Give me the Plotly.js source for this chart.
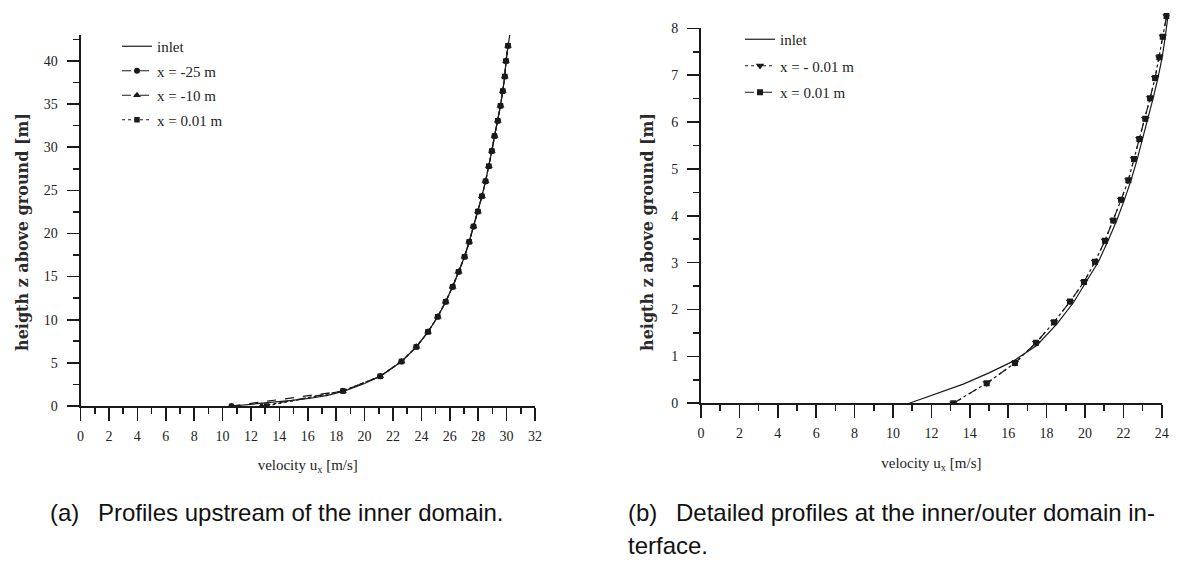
<!DOCTYPE html>
<html>
<head>
<meta charset="utf-8">
<script src="https://cdn.plot.ly/plotly-3.0.1.min.js"></script>
<style>
html,body{margin:0;padding:0;background:#fff;}
#chart{width:1179px;height:563px;}
</style>
</head>
<body>
<div id="chart"></div>
<script>
// ---------- data: (a) profiles upstream of the inner domain ----------
const leftZ = [0, 1.74, 3.44, 5.16, 6.86, 8.6, 10.35, 12.09, 13.82, 15.56, 17.3, 19.05, 20.8,
  22.55, 24.3, 26.05, 27.8, 29.55, 31.3, 33.05, 34.8, 36.5, 38.2, 40.0, 41.75];
const leftU_m25 = [10.63, 18.48, 21.1, 22.6, 23.65, 24.47, 25.15, 25.71, 26.2, 26.62, 27.04, 27.37,
  27.67, 27.98, 28.26, 28.52, 28.75, 28.96, 29.15, 29.38, 29.57, 29.73, 29.87, 29.96, 30.1];
const leftU_m10 = [12.75, 18.48, 21.1, 22.6, 23.65, 24.47, 25.15, 25.71, 26.2, 26.62, 27.04, 27.37,
  27.67, 27.98, 28.26, 28.52, 28.75, 28.96, 29.15, 29.38, 29.57, 29.73, 29.87, 29.96, 30.1];
const leftU_p001 = [13.1, 18.48, 21.1, 22.6, 23.65, 24.47, 25.15, 25.71, 26.2, 26.62, 27.04, 27.37,
  27.67, 27.98, 28.26, 28.52, 28.75, 28.96, 29.15, 29.38, 29.57, 29.73, 29.87, 29.96, 30.1];
const leftInletZ = [0, 0.2, 0.41, 0.65, 0.9, 1.24, 1.74, 2.6, 3.44, 5.16, 6.86, 8.6, 10.35, 12.09,
  13.82, 15.56, 17.3, 19.05, 20.8, 22.55, 24.3, 26.05, 27.8, 29.55, 31.3, 33.05, 34.8, 36.5, 38.2,
  40.0, 41.75, 43.0];
const leftInletU = [10.7, 12.1, 13.6, 14.9, 16.2, 17.4, 18.6, 20.0, 21.1, 22.6, 23.65, 24.47, 25.15,
  25.71, 26.2, 26.62, 27.04, 27.37, 27.67, 27.98, 28.26, 28.52, 28.75, 28.96, 29.15, 29.38, 29.57,
  29.73, 29.87, 29.96, 30.1, 30.22];

// ---------- data: (b) detailed profiles at the inner/outer interface ----------
const rightZ = [0, 0.43, 0.86, 1.29, 1.73, 2.17, 2.59, 3.02, 3.47, 3.9, 4.34, 4.76, 5.21, 5.64,
  6.07, 6.51, 6.94, 7.38, 7.82, 8.26];
const rightU_m001 = [13.14, 14.88, 16.35, 17.45, 18.39, 19.22, 19.95, 20.52, 21.04, 21.47, 21.88,
  22.26, 22.55, 22.83, 23.14, 23.39, 23.65, 23.87, 24.05, 24.25];
const rightU_p001 = [13.14, 14.88, 16.35, 17.45, 18.39, 19.22, 19.95, 20.52, 21.04, 21.47, 21.88,
  22.26, 22.55, 22.83, 23.14, 23.39, 23.65, 23.87, 24.05, 24.25];
const rightInletZ = [0, 0.2, 0.41, 0.65, 0.9, 1.24, 1.7, 2.15, 2.6, 3.02, 3.47, 3.9, 4.34, 4.76,
  5.21, 5.64, 6.07, 6.51, 6.94, 7.38, 7.82, 8.26];
const rightInletU = [10.85, 12.2, 13.66, 15.0, 16.27, 17.5, 18.55, 19.4, 20.05, 20.7, 21.2, 21.65,
  22.05, 22.4, 22.72, 23.0, 23.3, 23.55, 23.8, 24.02, 24.18, 24.32];

// ---------- tick labels / texts ----------
const leftXTicks = [0, 2, 4, 6, 8, 10, 12, 14, 16, 18, 20, 22, 24, 26, 28, 30, 32];
const leftYTicks = [0, 5, 10, 15, 20, 25, 30, 35, 40];
const rightXTicks = [0, 2, 4, 6, 8, 10, 12, 14, 16, 18, 20, 22, 24];
const rightYTicks = [0, 1, 2, 3, 4, 5, 6, 7, 8];
const yTitle = 'heigth z above ground [m]';
const xTitle = 'velocity u<sub>x</sub> [m/s]';
const captionA = '(a)\u2002 Profiles upstream of the inner domain.';
const captionB1 = '(b)\u2002 Detailed profiles at the inner/outer domain in-';
const captionB2 = 'terface.';

// ---------- layout helpers (pixel geometry of the page) ----------
const W = 1179, H = 563;
const px = v => v / W;
const py = v => (H - v) / H;
const INK = '#1a1a1a';
const TXT = '#222';
const serif = 'Liberation Serif, DejaVu Serif, serif';
const capFont = {family: 'Liberation Sans, Arial, sans-serif', size: 24, color: '#111'};
const yTitleFont = {family: 'DejaVu Serif, serif', size: 16, color: '#2a2a2a', weight: 'bold'};
const xTitleFont = {family: serif, size: 15, color: TXT};

function baseAxis(extra) {
  return Object.assign({
    showgrid: false, zeroline: false, showline: true, linecolor: INK, linewidth: 2,
    ticks: 'outside', ticklen: 13, tickwidth: 1.6, tickcolor: INK,
    tickfont: {family: serif, size: 14, color: TXT},
    mirror: false, fixedrange: true
  }, extra);
}

const lineW = 1.2;
const traces = [
  {x: leftInletU, y: leftInletZ, xaxis: 'x', yaxis: 'y', name: 'inlet', mode: 'lines',
   line: {color: INK, width: lineW}, legend: 'legend', legendgroup: 'a1'},
  {x: leftU_m25, y: leftZ, xaxis: 'x', yaxis: 'y', name: 'x = -25 m', mode: 'lines+markers',
   line: {color: INK, width: lineW, dash: 'dash'}, marker: {symbol: 'circle', size: 6, color: INK},
   legend: 'legend', legendgroup: 'a2'},
  {x: leftU_m10, y: leftZ, xaxis: 'x', yaxis: 'y', name: 'x = -10 m', mode: 'lines+markers',
   line: {color: INK, width: lineW, dash: 'dashdot'}, marker: {symbol: 'triangle-up', size: 7, color: INK},
   legend: 'legend', legendgroup: 'a3'},
  {x: leftU_p001, y: leftZ, xaxis: 'x', yaxis: 'y', name: 'x = 0.01 m', mode: 'lines+markers',
   line: {color: INK, width: lineW, dash: 'dot'}, marker: {symbol: 'square', size: 5.5, color: INK},
   legend: 'legend', legendgroup: 'a4'},

  {x: rightInletU, y: rightInletZ, xaxis: 'x2', yaxis: 'y2', name: 'inlet', mode: 'lines',
   line: {color: INK, width: lineW}, legend: 'legend2', legendgroup: 'b1', legendrank: 1},
  {x: rightU_p001, y: rightZ, xaxis: 'x2', yaxis: 'y2', name: 'x = 0.01 m', mode: 'lines+markers',
   line: {color: INK, width: lineW, dash: 'dash'}, marker: {symbol: 'square', size: 6, color: INK},
   legend: 'legend2', legendgroup: 'b3', legendrank: 3},
  {x: rightU_m001, y: rightZ, xaxis: 'x2', yaxis: 'y2', name: 'x = - 0.01 m', mode: 'lines+markers',
   line: {color: INK, width: lineW, dash: 'dot'}, marker: {symbol: 'triangle-down', size: 7.5, color: INK},
   legend: 'legend2', legendgroup: 'b2', legendrank: 2},

  // empty trace that only registers the drawn axes of panel (b)
  {x: [], y: [], xaxis: 'x3', yaxis: 'y3', mode: 'lines', showlegend: false, hoverinfo: 'skip'}
];

// right chart: data axes (x2/y2) slightly wider than the drawn axes (x3/y3), same scale
const rX0 = 701, rXperU = 19.2, rY0 = 403.3, rYperU = 46.875;
const rDataXMax = 24.4, rDataYMax = 8.35;

const layout = {
  width: W, height: H,
  margin: {l: 0, r: 0, t: 0, b: 0},
  paper_bgcolor: '#fff', plot_bgcolor: 'rgba(0,0,0,0)',
  showlegend: true,
  font: {family: serif, color: TXT},

  // ---- (a) ----
  xaxis: baseAxis({domain: [px(80.5), px(535)], range: [0, 32], anchor: 'y',
    tickvals: leftXTicks, minor: {dtick: 1, ticklen: 6, tickwidth: 1.6, tickcolor: INK, ticks: 'outside'},
    ticklabelstandoff: 3,
    title: {text: xTitle, font: xTitleFont, standoff: 17}}),
  yaxis: baseAxis({domain: [py(406), py(35)], range: [0, 43], anchor: 'x', ticklen: 12,
    tickvals: leftYTicks, minor: {dtick: 2.5, ticklen: 6, tickwidth: 1.6, tickcolor: INK, ticks: 'outside'},
    ticklabelstandoff: 6}),

  // ---- (b) data axes (hidden) ----
  xaxis2: {domain: [px(rX0), px(rX0 + rDataXMax * rXperU)], range: [0, rDataXMax], anchor: 'y2',
    visible: false, fixedrange: true},
  yaxis2: {domain: [py(rY0), py(rY0 - rDataYMax * rYperU)], range: [0, rDataYMax], anchor: 'x2',
    visible: false, fixedrange: true},
  // ---- (b) drawn axes ----
  xaxis3: baseAxis({domain: [px(rX0), px(rX0 + 24 * rXperU)], range: [0, 24], anchor: 'y3',
    tickvals: rightXTicks, minor: {dtick: 1, ticklen: 6, tickwidth: 1.6, tickcolor: INK, ticks: 'outside'},
    ticklabelstandoff: 3,
    title: {text: xTitle, font: xTitleFont, standoff: 17}}),
  yaxis3: baseAxis({domain: [py(rY0), py(rY0 - 8 * rYperU)], range: [0, 8], anchor: 'x3', ticklen: 12,
    tickvals: rightYTicks, minor: {dtick: 0.5, ticklen: 6, tickwidth: 1.6, tickcolor: INK, ticks: 'outside'},
    ticklabelstandoff: 6}),

  legend: {x: px(117), y: py(30), xanchor: 'left', yanchor: 'top', bgcolor: 'rgba(0,0,0,0)',
    font: {family: serif, size: 15, color: TXT}, traceorder: 'grouped', tracegroupgap: 2,
    borderwidth: 0, itemclick: false, itemdoubleclick: false},
  legend2: {x: px(740), y: py(23), xanchor: 'left', yanchor: 'top', bgcolor: 'rgba(0,0,0,0)',
    font: {family: serif, size: 15, color: TXT}, traceorder: 'grouped', tracegroupgap: 4,
    borderwidth: 0, itemclick: false, itemdoubleclick: false},

  annotations: [
    // vertical axis titles
    {text: yTitle, xref: 'paper', yref: 'paper', x: px(22), y: py(232), xanchor: 'center', yanchor: 'middle',
     textangle: -90, showarrow: false, font: yTitleFont},
    {text: yTitle, xref: 'paper', yref: 'paper', x: px(647), y: py(232), xanchor: 'center', yanchor: 'middle',
     textangle: -90, showarrow: false, font: yTitleFont},
    // captions
    {text: captionA, xref: 'paper', yref: 'paper', x: px(48), y: py(512), xanchor: 'left', yanchor: 'middle',
     showarrow: false, font: capFont},
    {text: captionB1, xref: 'paper', yref: 'paper', x: px(626), y: py(512), xanchor: 'left', yanchor: 'middle',
     showarrow: false, font: capFont},
    {text: captionB2, xref: 'paper', yref: 'paper', x: px(626), y: py(545), xanchor: 'left', yanchor: 'middle',
     showarrow: false, font: capFont}
  ]
};

Plotly.newPlot('chart', traces, layout, {displayModeBar: false, staticPlot: true});
</script>
</body>
</html>
